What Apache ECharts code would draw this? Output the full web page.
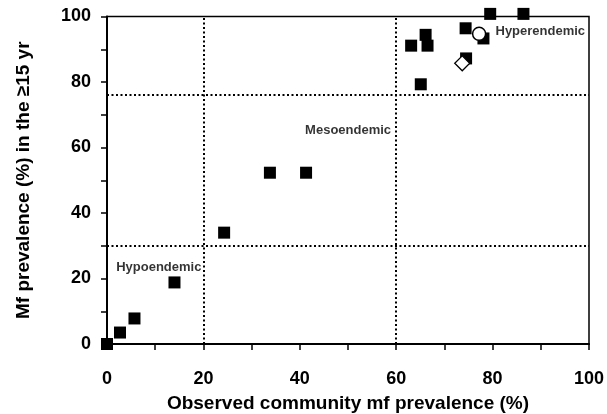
<!DOCTYPE html>
<html><head><meta charset="utf-8">
<script src="https://cdn.jsdelivr.net/npm/echarts@6/dist/echarts.min.js"></script>
<style>html,body{margin:0;padding:0;background:#fff}#c{width:607px;height:414px}</style>
</head><body><div id="c"></div>
<script>
// Observed community mf prevalence (%) vs Mf prevalence (%) in >=15 yr
const squareX = [0, 2.7, 5.7, 14.0, 24.3, 33.8, 41.3, 63.1, 66.1, 66.5, 65.1, 74.4, 74.5, 78.1, 79.5, 86.4];
const squareY = [0, 3.5, 7.8, 18.8, 34.0, 52.3, 52.3, 91.1, 94.4, 91.1, 79.3, 96.4, 87.2, 93.3, 100.8, 100.8];
const diamondX = [73.7];
const diamondY = [85.7];
const circleX = [77.2];
const circleY = [94.7];
const verticalCuts = [20, 60];
const horizontalCuts = [30, 76];
const zoneLabels = ['Hyperendemic', 'Mesoendemic', 'Hypoendemic'];
const zoneLabelX = [80.6, 41.1, 1.9];
const zoneLabelY = [95.4, 65.3, 23.3];
const xTicks = [0, 20, 40, 60, 80, 100];
const yTicks = [0, 20, 40, 60, 80, 100];

const pairs = (xs, ys) => xs.map((x, i) => [x, ys[i]]);
const font = 'Liberation Sans, Arial, sans-serif';

const chart = echarts.init(document.getElementById('c'), null, {renderer: 'canvas'});
chart.setOption({
  animation: false,
  backgroundColor: '#fff',
  grid: {left: 107, top: 16.5, right: 18, bottom: 70, containLabel: false, outerBoundsMode: 'none',
    show: true, borderColor: '#000', borderWidth: 1.5, backgroundColor: 'transparent'},
  xAxis: {
    type: 'value', min: 0, max: 100, interval: 10,
    splitLine: {show: false},
    axisLine: {show: true, onZero: false, lineStyle: {color: '#000', width: 2}},
    axisTick: {show: true, length: 6, lineStyle: {color: '#000', width: 1.5}},
    axisLabel: {margin: 26, color: '#000', fontFamily: font, fontWeight: 'bold', fontSize: 18,
      formatter: v => xTicks.includes(v) ? String(v) : ''},
    name: 'Observed community mf prevalence (%)', nameLocation: 'middle', nameGap: 50,
    nameTextStyle: {color: '#000', fontFamily: font, fontWeight: 'bold', fontSize: 19}
  },
  yAxis: {
    type: 'value', min: 0, max: 100, interval: 10,
    splitLine: {show: false},
    axisLine: {show: true, onZero: false, lineStyle: {color: '#000', width: 2}},
    axisTick: {show: true, length: 6, lineStyle: {color: '#000', width: 1.5}},
    axisLabel: {margin: 16, color: '#000', fontFamily: font, fontWeight: 'bold', fontSize: 18,
      formatter: v => yTicks.includes(v) ? String(v) : ''},
    name: 'Mf prevalence (%) in the \u226515 yr', nameLocation: 'middle', nameGap: 74,
    nameTextStyle: {color: '#000', fontFamily: font, fontWeight: 'bold', fontSize: 19}
  },
  series: [
    {
      type: 'scatter', symbol: 'rect', symbolSize: 12, clip: false,
      itemStyle: {color: '#000', opacity: 1},
      data: pairs(squareX, squareY),
      markLine: {
        silent: true, symbol: 'none', animation: false,
        label: {show: false},
        lineStyle: {color: '#000', type: [2, 2.5], width: 2, opacity: 1},
        data: verticalCuts.map(v => ({xAxis: v})).concat(horizontalCuts.map(v => ({yAxis: v})))
      },
      z: 2
    },
    {
      type: 'scatter', symbol: 'diamond', symbolSize: 15, clip: false,
      itemStyle: {color: '#fff', borderColor: '#000', borderWidth: 1.3, opacity: 1},
      data: pairs(diamondX, diamondY), z: 3
    },
    {
      type: 'scatter', symbol: 'circle', symbolSize: 13, clip: false,
      itemStyle: {color: '#fff', borderColor: '#000', borderWidth: 1.5, opacity: 1},
      data: pairs(circleX, circleY), z: 3
    },
    {
      type: 'scatter', symbolSize: 0, clip: false,
      data: zoneLabels.map((t, i) => ({value: [zoneLabelX[i], zoneLabelY[i]], name: t})),
      label: {show: true, position: 'right', distance: 0, formatter: p => p.name,
        color: '#000', fontFamily: font, fontWeight: 'bold', fontSize: 13},
      z: 4
    }
  ]
});
</script></body></html>
